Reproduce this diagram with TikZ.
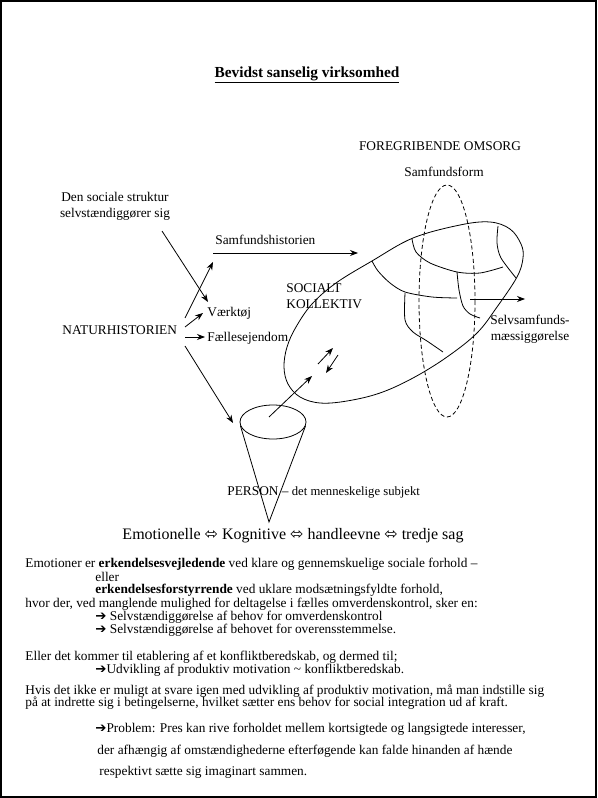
\documentclass[tikz,border=0pt]{standalone}
\usepackage{fontspec}
\setmainfont{Liberation Serif}
\newfontfamily\symfont{DejaVu Sans}
\usetikzlibrary{arrows.meta}
\tikzset{
  lbl/.style={font=\fontsize{10}{12}\selectfont, inner sep=0pt},
  txt/.style={font=\fontsize{10}{11}\selectfont, inner sep=0pt, anchor=west},
  thin line/.style={line width=0.6pt}
}
\newcommand{\darr}{{\symfont\char"2B04}}
\newcommand{\parr}{{\symfont\char"2794}}
\begin{document}
\begin{tikzpicture}[x=0.75pt, y=-0.75pt, >={Stealth[length=6pt,width=4.5pt]}, thin line]
        \useasboundingbox (0,0) rectangle (597,798);
        \draw[line width=1.2pt] (0.8,0.8) rectangle (596.2,797.2);
        \node[lbl, font=\fontsize{11.5}{13}\selectfont] (title) at (307,75) {\underline{\textbf{Bevidst sanselig virksomhed}}};

        \node[lbl] (omsorg) at (440,146) {FOREGRIBENDE OMSORG};
        \node[lbl] (sform) at (444,172) {Samfundsform};
        \node[lbl, align=center] (struktur) at (115,206) {Den sociale struktur\\selvstændiggører sig};
        \node[lbl, anchor=west] (shist) at (215,240) {Samfundshistorien};
        \node[lbl, anchor=west] (natur) at (62,330) {NATURHISTORIEN};
        \node[lbl, anchor=west] (vaerk) at (207,313) {Værktøj};
        \node[lbl, anchor=west] (faelles) at (207,338) {Fællesejendom};
        \node[lbl, anchor=west, align=left] (kollektiv) at (286,296) {SOCIALT\\KOLLEKTIV};
        \node[lbl, align=center] (selvsam) at (530,329) {Selvsamfunds-\\mæssiggørelse};
        \node[lbl, anchor=west] (person) at (227,492) {PERSON -- \fontsize{9.5}{11}\selectfont det menneskelige subjekt};

        \coordinate (s0) at (162,231);
        \coordinate (s1) at (208,302);
        \coordinate (h0) at (213,253);
        \coordinate (h1) at (358,253);
        \coordinate (n0) at (185,318);
        \coordinate (n1) at (213,262);
        \coordinate (v0) at (185,327);
        \coordinate (v1) at (203,313);
        \coordinate (f0) at (185,337);
        \coordinate (f1) at (205,337);
        \coordinate (p0) at (185,346);
        \coordinate (p1) at (233,423);
        \draw[->] (s0) -- (s1);
        \draw[->] (h0) -- (h1);
        \draw[->] (n0) -- (n1);
        \draw[->] (v0) -- (v1);
        \draw[->] (f0) -- (f1);
        \draw[->] (p0) -- (p1);

        \draw plot[smooth cycle, tension=0.6] coordinates {(372,261) (413,238) (460,225) (490,222) (510,229) (521,244) (523,258) (517,277) (497,307) (477,333) (447,357) (413,378) (380,393) (347,401) (320,403) (300,397) (288,384) (284,367) (287,347) (296,327) (312,304) (336,283)};
        \draw[dash pattern=on 3pt off 2pt] (447,301) ellipse [x radius=28, y radius=116];
        \draw plot[smooth] coordinates {(412,239) (416,252) (430,263) (457,272) (480,273) (503,267)};
        \draw plot[smooth] coordinates {(498,226) (497,243) (501,258) (516,278)};
        \draw plot[smooth] coordinates {(372,261) (378,271) (390,283) (405,292) (432,297) (457,298)};
        \draw plot[smooth] coordinates {(457,272) (459,290) (463,306) (470,314) (480,318)};
        \draw plot[smooth] coordinates {(405,293) (405,320) (413,332) (427,341) (443,352)};
        \coordinate (e0) at (470,299);
        \coordinate (e1) at (525,299);
        \draw[->] (e0) -- (e1);

        \draw (273,422) ellipse [x radius=33, y radius=17];
        \coordinate (apex) at (269,522);
        \draw (240.5,426) -- (apex) -- (305.5,426);
        \coordinate (c0) at (269,417);
        \coordinate (c1) at (312,376);
        \draw[->] (c0) -- (c1);
        \coordinate (u0) at (318,364);
        \coordinate (u1) at (333,348);
        \coordinate (d0) at (338,355);
        \coordinate (d1) at (326,373);
        \draw[->] (u0) -- (u1);
        \draw[->] (d0) -- (d1);

        \node[lbl, font=\fontsize{12}{14}\selectfont] (emo) at (293,536) {Emotionelle \darr{} Kognitive \darr{} handleevne \darr{} tredje sag};

        \node[txt] (l1) at (25,564) {Emotioner er \textbf{erkendelsesvejledende} ved klare og gennemskuelige sociale forhold --};
        \node[txt] (l2) at (95,577) {eller};
        \node[txt] (l3) at (95,590) {\textbf{erkendelsesforstyrrende} ved uklare modsætningsfyldte forhold,};
        \node[txt] (l4) at (25,604) {hvor der, ved manglende mulighed for deltagelse i fælles omverdenskontrol, sker en:};
        \node[txt] (l5) at (95,617) {\parr{} Selvstændiggørelse af behov for omverdenskontrol};
        \node[txt] (l6) at (95,630) {\parr{} Selvstændiggørelse af behovet for overensstemmelse.};
        \node[txt] (l7) at (25,657) {Eller det kommer til etablering af et konfliktberedskab, og dermed til;};
        \node[txt] (l8) at (95,670) {\parr{}Udvikling af produktiv motivation \textasciitilde{} konfliktberedskab.};
        \node[txt] (l9) at (25,691) {Hvis det ikke er muligt at svare igen med udvikling af produktiv motivation,  må man indstille sig};
        \node[txt] (l10) at (25,703) {på at indrette sig i betingelserne, hvilket sætter ens behov for social integration ud af kraft.};
        \node[txt] (l11) at (95,729) {\parr{}Problem: Pres kan rive forholdet mellem kortsigtede og langsigtede interesser,};
        \node[txt] (l12) at (97,751) {der afhængig af omstændighederne efterføgende kan falde hinanden af hænde};
        \node[txt] (l13) at (99,772) {respektivt sætte sig imaginart sammen.};
    \end{tikzpicture}
\end{document}
